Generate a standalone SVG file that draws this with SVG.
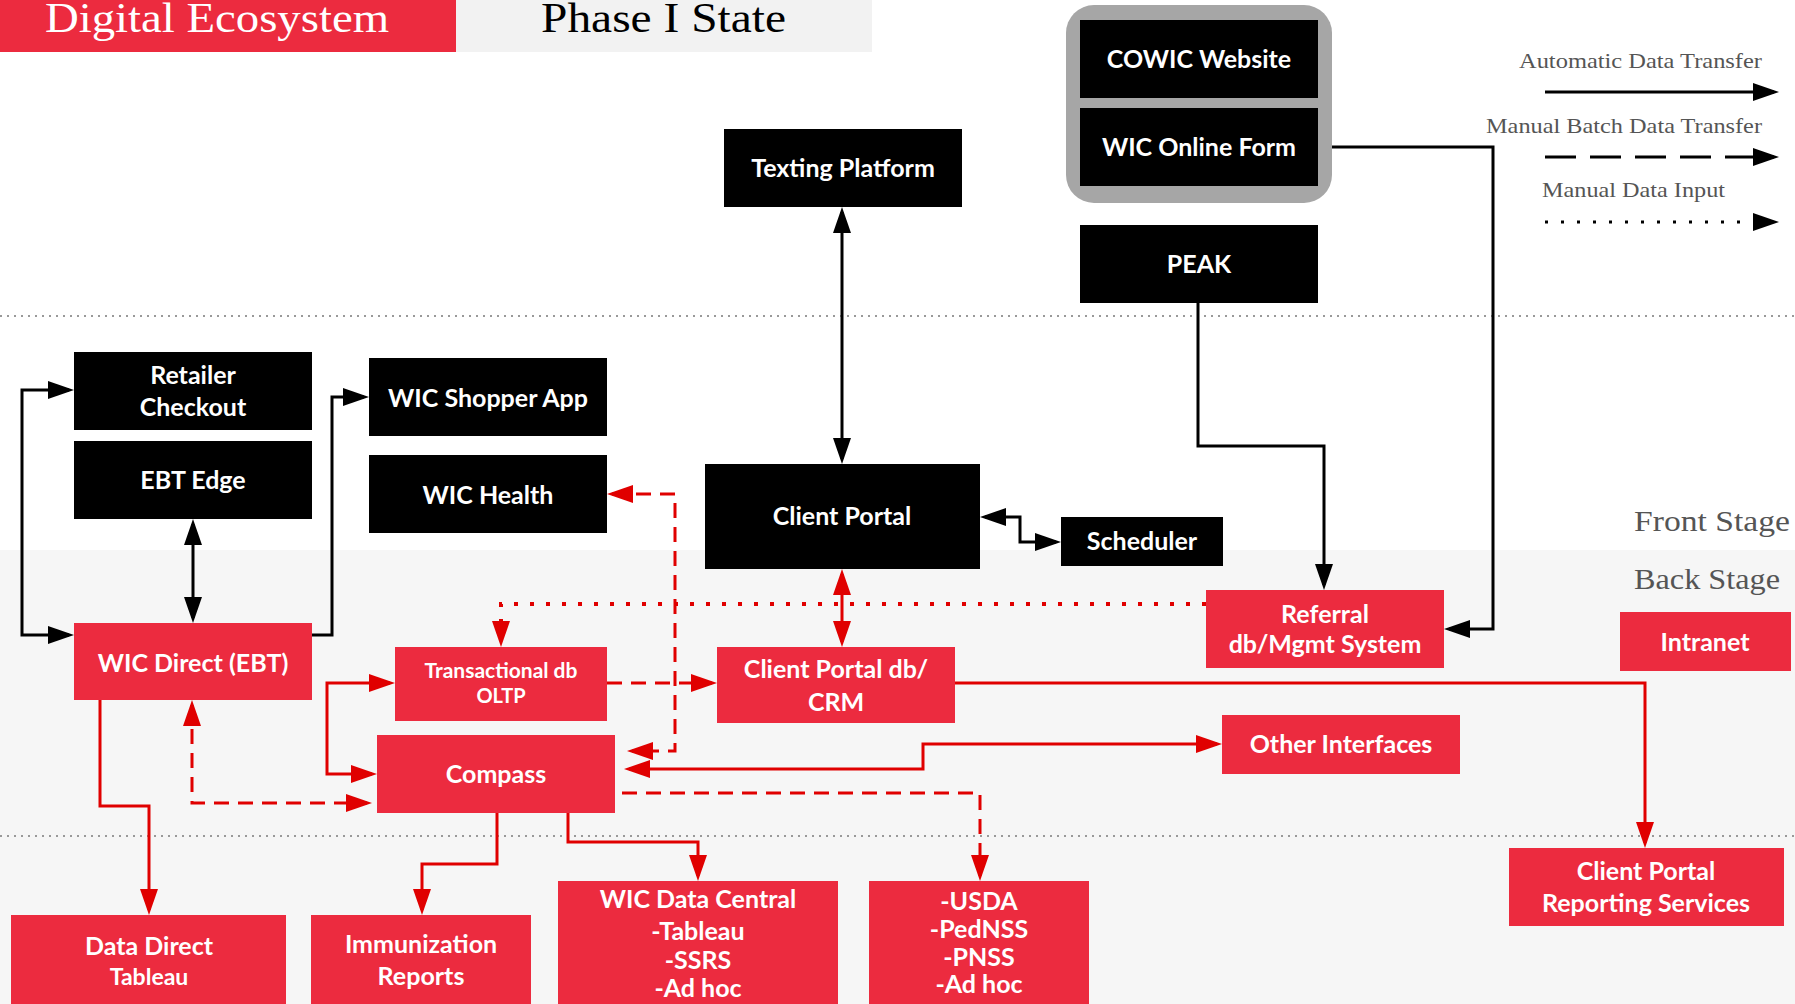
<svg xmlns="http://www.w3.org/2000/svg" width="1795" height="1004" viewBox="0 0 1795 1004">
<style>
.bk{fill:#000}
.rd{fill:#EC2B3F}
.t{font-family:Lato,"Source Sans Pro","Noto Sans",sans-serif;font-weight:bold;font-size:25px;fill:#fff;text-anchor:middle}
.ts{font-size:21px}
.sf{font-family:"Liberation Serif",serif}
.lg{font-family:"Liberation Serif",serif;font-size:21px;fill:#555}
.st{font-family:"Liberation Serif",serif;font-size:29px;fill:#555}
.lb{fill:none;stroke:#000;stroke-width:3}
.lr{fill:none;stroke:#E00000;stroke-width:3}
.dash{stroke-dasharray:15 9}
.dot{stroke-dasharray:4 12;stroke-width:4}
.sep{stroke:#999;stroke-width:2;stroke-dasharray:2 5;fill:none}
</style>
<defs>
<marker id="ab" viewBox="0 0 26 18" refX="21" refY="9" markerWidth="26" markerHeight="18" markerUnits="userSpaceOnUse" orient="auto-start-reverse"><path d="M0,0 L26,9 L0,18 z" fill="#000"/></marker>
<marker id="ar" viewBox="0 0 26 18" refX="21" refY="9" markerWidth="26" markerHeight="18" markerUnits="userSpaceOnUse" orient="auto-start-reverse"><path d="M0,0 L26,9 L0,18 z" fill="#E00000"/></marker>
</defs>
<rect x="0" y="0" width="1795" height="1004" fill="#fff"/>
<rect x="0" y="550" width="1795" height="454" fill="#F6F6F6"/>
<line class="sep" x1="0" y1="316" x2="1795" y2="316"/>
<line class="sep" x1="0" y1="836" x2="1795" y2="836"/>

<g id="header">
<rect x="0" y="0" width="456" height="52" fill="#EC2B3F"/>
<text class="sf" x="45" y="32" font-size="42" fill="#fff" textLength="344" lengthAdjust="spacingAndGlyphs">Digital Ecosystem</text>
<rect x="456" y="0" width="416" height="52" fill="#F2F2F2"/>
<text class="sf" x="541" y="32" font-size="42" fill="#000" textLength="245" lengthAdjust="spacingAndGlyphs">Phase I State</text>
</g>

<g id="legend">
<text class="lg" x="1519" y="68" textLength="243" lengthAdjust="spacingAndGlyphs">Automatic Data Transfer</text>
<text class="lg" x="1486" y="133" textLength="276" lengthAdjust="spacingAndGlyphs">Manual Batch Data Transfer</text>
<text class="lg" x="1542" y="197" textLength="183" lengthAdjust="spacingAndGlyphs">Manual Data Input</text>
<path class="lb" d="M1545,92 H1774" marker-end="url(#ab)"/>
<path class="lb" d="M1545,157 H1774" stroke-dasharray="31 14" marker-end="url(#ab)"/>
<path class="lb" d="M1545,222 H1774" stroke-dasharray="3 13" marker-end="url(#ab)"/>
</g>

<g id="stages">
<text class="st" x="1634" y="531" textLength="156" lengthAdjust="spacingAndGlyphs">Front Stage</text>
<text class="st" x="1634" y="589" textLength="146" lengthAdjust="spacingAndGlyphs">Back Stage</text>
</g>

<g id="connectors">
<path class="lb" d="M842,212 V459" marker-start="url(#ab)" marker-end="url(#ab)"/>
<path class="lb" d="M985,517 H1020 V542 H1056" marker-start="url(#ab)" marker-end="url(#ab)"/>
<path class="lb" d="M69,635 H22 V390 H69" marker-start="url(#ab)" marker-end="url(#ab)"/>
<path class="lb" d="M193,524 V618" marker-start="url(#ab)" marker-end="url(#ab)"/>
<path class="lb" d="M312,635 H332 V397 H364" marker-end="url(#ab)"/>
<path class="lb" d="M1198,303 V446 H1324 V585" marker-end="url(#ab)"/>
<path class="lb" d="M1318,147 H1493 V629 H1449" marker-end="url(#ab)"/>

<path class="lr" d="M842,574 V642" marker-start="url(#ar)" marker-end="url(#ar)"/>
<path class="lr" d="M390,683 H327 V774 H372" marker-start="url(#ar)" marker-end="url(#ar)"/>
<path class="lr" d="M955,683 H1645 V843" marker-end="url(#ar)"/>
<path class="lr" d="M629,769 H923 V744 H1217" marker-start="url(#ar)" marker-end="url(#ar)"/>
<path class="lr" d="M100,700 V806 H149 V910" marker-end="url(#ar)"/>
<path class="lr" d="M497,813 V864 H422 V910" marker-end="url(#ar)"/>
<path class="lr" d="M568,813 V842 H698 V876" marker-end="url(#ar)"/>

<path class="lr dash" d="M612,494 H675 V751 H632" marker-start="url(#ar)" marker-end="url(#ar)"/>
<path class="lr dash" d="M607,683 H712" marker-end="url(#ar)"/>
<path class="lr dash" d="M192,705 V803 H367" marker-start="url(#ar)" marker-end="url(#ar)"/>
<path class="lr dash" d="M622,793 H980 V876" marker-end="url(#ar)"/>

<path class="lr dot" d="M1206,604 H501 V642" marker-end="url(#ar)"/>
</g>

<g id="web-group">
<rect x="1066" y="5" width="266" height="198" rx="28" fill="#A6A6A6"/>
</g>
<g id="cowic-website"><rect class="bk" x="1080" y="20" width="238" height="78"/><text class="t" x="1199" y="68">COWIC Website</text></g>
<g id="wic-online-form"><rect class="bk" x="1080" y="108" width="238" height="78"/><text class="t" x="1199" y="156">WIC Online Form</text></g>
<g id="peak"><rect class="bk" x="1080" y="225" width="238" height="78"/><text class="t" x="1199" y="273">PEAK</text></g>
<g id="texting-platform"><rect class="bk" x="724" y="129" width="238" height="78"/><text class="t" x="843" y="177">Texting Platform</text></g>
<g id="client-portal"><rect class="bk" x="705" y="464" width="275" height="105"/><text class="t" x="842" y="525">Client Portal</text></g>
<g id="scheduler"><rect class="bk" x="1061" y="517" width="162" height="49"/><text class="t" x="1142" y="550">Scheduler</text></g>
<g id="retailer-checkout"><rect class="bk" x="74" y="352" width="238" height="78"/><text class="t" x="193" y="384">Retailer</text><text class="t" x="193" y="416">Checkout</text></g>
<g id="ebt-edge"><rect class="bk" x="74" y="441" width="238" height="78"/><text class="t" x="193" y="489">EBT Edge</text></g>
<g id="wic-shopper-app"><rect class="bk" x="369" y="358" width="238" height="78"/><text class="t" x="488" y="407">WIC Shopper App</text></g>
<g id="wic-health"><rect class="bk" x="369" y="455" width="238" height="78"/><text class="t" x="488" y="504">WIC Health</text></g>

<g id="wic-direct"><rect class="rd" x="74" y="623" width="238" height="77"/><text class="t" x="193" y="672">WIC Direct (EBT)</text></g>
<g id="transactional-db"><rect class="rd" x="395" y="647" width="212" height="74"/><text class="t ts" x="501" y="678">Transactional db</text><text class="t ts" x="501" y="703" style="font-size:20px">OLTP</text></g>
<g id="client-portal-db"><rect class="rd" x="717" y="647" width="238" height="76"/><text class="t" x="836" y="678">Client Portal db/</text><text class="t" x="836" y="711">CRM</text></g>
<g id="referral"><rect class="rd" x="1206" y="590" width="238" height="78"/><text class="t" x="1325" y="623">Referral</text><text class="t" x="1325" y="653">db/Mgmt System</text></g>
<g id="intranet"><rect class="rd" x="1620" y="612" width="171" height="59"/><text class="t" x="1705" y="651">Intranet</text></g>
<g id="compass"><rect class="rd" x="377" y="735" width="238" height="78"/><text class="t" x="496" y="783">Compass</text></g>
<g id="other-interfaces"><rect class="rd" x="1222" y="715" width="238" height="59"/><text class="t" x="1341" y="753">Other Interfaces</text></g>
<g id="reporting-services"><rect class="rd" x="1509" y="848" width="275" height="78"/><text class="t" x="1646" y="880">Client Portal</text><text class="t" x="1646" y="912">Reporting Services</text></g>
<g id="data-direct"><rect class="rd" x="11" y="915" width="275" height="89"/><text class="t" x="149" y="955">Data Direct</text><text class="t" x="149" y="985" style="font-size:23px">Tableau</text></g>
<g id="immunization"><rect class="rd" x="311" y="915" width="220" height="89"/><text class="t" x="421" y="953">Immunization</text><text class="t" x="421" y="985">Reports</text></g>
<g id="wic-data-central"><rect class="rd" x="558" y="881" width="280" height="123"/><text class="t" x="698" y="908">WIC Data Central</text><text class="t" x="698" y="940">-Tableau</text><text class="t" x="698" y="969">-SSRS</text><text class="t" x="698" y="997">-Ad hoc</text></g>
<g id="usda"><rect class="rd" x="869" y="881" width="220" height="123"/><text class="t" x="979" y="910">-USDA</text><text class="t" x="979" y="938">-PedNSS</text><text class="t" x="979" y="966">-PNSS</text><text class="t" x="979" y="993">-Ad hoc</text></g>
</svg>
